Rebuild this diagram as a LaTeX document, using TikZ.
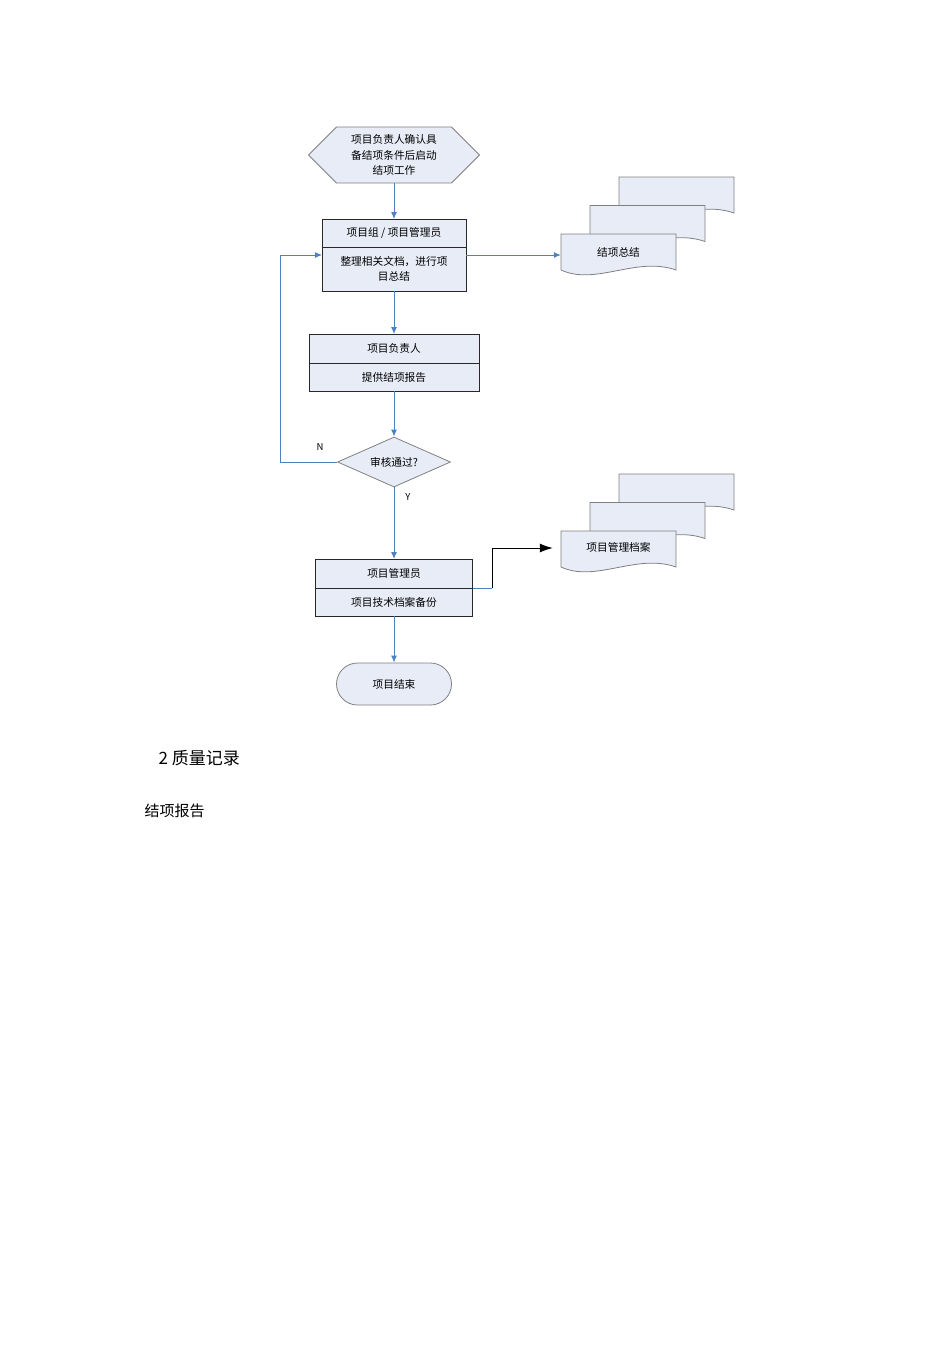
\documentclass[tikz,border=0pt]{standalone}
\usepackage{fontspec}
\setmainfont{Noto Sans CJK SC}
\usepackage{tikz}
\usetikzlibrary{arrows.meta}
\usetikzlibrary{shapes.geometric, shapes.symbols, shapes.misc}
\usetikzlibrary{positioning}

\definecolor{boxfill}{RGB}{232,236,247}
\definecolor{flowblue}{RGB}{79,129,189}
\definecolor{edgegray}{RGB}{128,128,128}
\definecolor{boxline}{RGB}{40,40,40}

% one page of a document stack, top left corner at (#1,#2)
\newcommand{\docpage}[2]{%
  \filldraw[fill=boxfill, draw=edgegray, line width=0.8pt]
    (#1,#2) -- (#1+115,#2) -- (#1+115,#2+36)
    .. controls (#1+75,#2+22) and (#1+35,#2+52) .. (#1,#2+36) -- cycle;}
\newcommand{\docstack}[2]{%
  \docpage{#1+58}{#2-57}\docpage{#1+29}{#2-28.5}\docpage{#1}{#2}}

\tikzset{
  flowtext/.style={font=\fontsize{10.7}{15.5}\selectfont, align=center},
  stepbox/.style={flowtext, rectangle, draw=boxline, line width=0.9pt,
                  fill=boxfill, inner sep=0pt, outer sep=0pt},
  startbox/.style={flowtext, signal, signal to=west and east, draw=edgegray,
                   line width=0.8pt, fill=boxfill, inner sep=0pt},
  decision/.style={flowtext, diamond, aspect=3, draw=edgegray, line width=0.8pt,
                   fill=boxfill, inner sep=0pt},
  endbox/.style={flowtext, rounded rectangle, draw=edgegray, line width=0.8pt,
                 fill=boxfill, inner sep=0pt},
  doctext/.style={flowtext, minimum width=115pt, inner sep=0pt},
  flow/.style={draw=flowblue, line width=1pt, -{Latex[length=7pt,width=6pt]}},
}

\begin{document}
\begin{tikzpicture}[x=1pt, y=-1pt]
	\useasboundingbox (0,0) rectangle (950,1345);

	\docstack{561}{234}
	\docstack{561}{531}

	\node[startbox, minimum width=171pt, minimum height=56pt] (start) at (394,155) {项目负责人确认具\\备结项条件后启动\\结项工作};
	\node[stepbox, minimum width=144pt, minimum height=28pt] (grphead) at (394,233) {项目组 / 项目管理员};
	\node[stepbox, minimum width=144pt, minimum height=44pt, below=0pt of grphead] (grpwork) {整理相关文档，进行项\\目总结};
	\node[stepbox, minimum width=170pt, minimum height=29pt] (leadhead) at (394,348.5) {项目负责人};
	\node[stepbox, minimum width=170pt, minimum height=28pt, below=0pt of leadhead] (leadwork) {提供结项报告};
	\node[decision, minimum width=113pt, minimum height=50pt] (check) at (394,462) {审核通过?};
	\node[stepbox, minimum width=157pt, minimum height=29pt] (archead) at (394,573.5) {项目管理员};
	\node[stepbox, minimum width=157pt, minimum height=28pt, below=0pt of archead] (arcwork) {项目技术档案备份};
	\node[endbox, minimum width=115pt, minimum height=42pt] (finish) at (394,684) {项目结束};

	\node[doctext, minimum height=36pt] (sumdoc) at (618.5,255) {\raisebox{7pt}{结项总结}};
	\node[doctext, minimum height=36pt] (archdoc) at (618.5,548) {\raisebox{2pt}{项目管理档案}};

	\begin{scope}[every node/.style={font=\fontsize{9.5}{11}\selectfont}]
		\node (nolabel) at (320,447) {N};
		\node (yeslabel) at (408,497) {Y};
	\end{scope}

	\coordinate (loop) at (280,462);
	\coordinate (bend) at (492,588);

	\begin{scope}[every edge/.style={flow}]
		\path (start) edge (grphead);
		\path (grpwork) edge (leadhead);
		\path (leadwork) edge (check);
		\path (check) edge (archead);
		\path (arcwork) edge (finish);
	\end{scope}
	\draw[flow] ([yshift=14pt]grpwork.east) -- (sumdoc.west);
	\draw[flow] (check.west) -- (loop) |- ([yshift=14pt]grpwork.west);
	\draw[draw=flowblue, line width=1pt] (archead.south east) -- (bend);
	\draw[line width=1pt, -{Latex[length=13pt,width=9pt]}] (bend) |- ([xshift=-8pt]archdoc.west);

	\node[anchor=west, font=\fontsize{17}{20}\selectfont] (rechead) at (155,758) {2 质量记录};
	\node[anchor=west, font=\fontsize{15}{18}\selectfont] (recitem) at (141,811) {结项报告};
\end{tikzpicture}
\end{document}
